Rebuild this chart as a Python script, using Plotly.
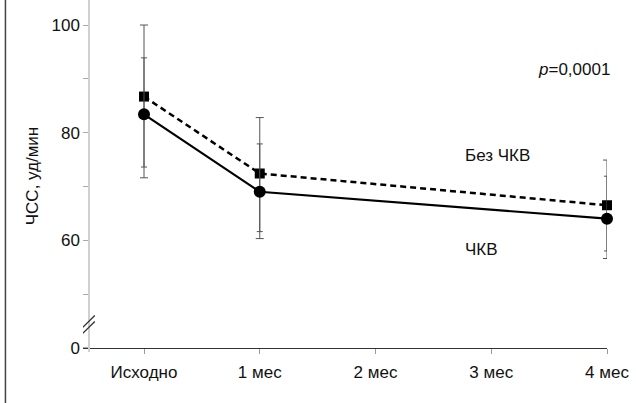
import plotly.graph_objects as go

# ---- data ----
x_labels = ["Исходно", "1 мес", "2 мес", "3 мес", "4 мес"]
x_pos = [0, 1, 2, 3, 4]
pts_x = [0, 1, 4]

no_pci = [86.7, 72.4, 66.5]          # Без ЧКВ (squares, dashed)
no_pci_plus = [13.3, 10.4, 8.4]
no_pci_minus = [15.1, 12.1, 9.9]

pci = [83.4, 69.0, 64.0]             # ЧКВ (circles, solid)
pci_plus = [10.5, 8.9, 7.9]
pci_minus = [9.8, 7.4, 6.0]

y_tickvals = [40, 50, 60, 70, 80, 90, 100]
y_ticktext = ["0", "", "60", "", "80", "", "100"]

FONT = "Liberation Sans, Arial, Helvetica, sans-serif"

fig = go.Figure()

fig.add_trace(go.Scatter(
    x=pts_x, y=no_pci, mode="lines+markers", name="Без ЧКВ",
    line=dict(color="black", width=2.5, dash="6px,4px"),
    marker=dict(symbol="square", size=10, color="black"),
    error_y=dict(type="data", symmetric=False, array=no_pci_plus,
                 arrayminus=no_pci_minus, color="#555", thickness=1, width=4),
    cliponaxis=False, showlegend=False,
))
fig.add_trace(go.Scatter(
    x=pts_x, y=pci, mode="lines+markers", name="ЧКВ",
    line=dict(color="black", width=2.2),
    marker=dict(symbol="circle", size=12, color="black"),
    error_y=dict(type="data", symmetric=False, array=pci_plus,
                 arrayminus=pci_minus, color="#555", thickness=1, width=3),
    cliponaxis=False, showlegend=False,
))

# axis break marks (decoration)
for dy in (0, 1.1):
    fig.add_shape(type="line", xref="x", yref="y",
                  x0=-0.538, y0=42.5 + dy, x1=-0.425, y1=44.9 + dy,
                  line=dict(color="#333", width=1.3))

# left frame line
fig.add_shape(type="line", xref="paper", yref="paper",
              x0=-0.148, x1=-0.148, y0=-0.2, y1=1.2,
              line=dict(color="#444", width=1.5))

fig.add_annotation(xref="paper", x=1.01, y=91.8, text="<i>p</i>=0,0001", showarrow=False,
                   xanchor="right", yanchor="middle",
                   font=dict(size=17, color="#111", family=FONT))
fig.add_annotation(x=3.05, y=75.8, text="Без ЧКВ", showarrow=False,
                   xanchor="center", yanchor="middle",
                   font=dict(size=17, color="#111", family=FONT))
fig.add_annotation(x=2.92, y=58.2, text="ЧКВ", showarrow=False,
                   xanchor="center", yanchor="middle",
                   font=dict(size=17, color="#111", family=FONT))

fig.update_layout(
    width=636, height=403,
    margin=dict(l=83, r=29, t=0, b=51),
    plot_bgcolor="white", paper_bgcolor="white",
    font=dict(family=FONT, size=17, color="#111"),
    xaxis=dict(
        range=[-0.527, 4.0], tickmode="array", tickvals=x_pos, ticktext=x_labels,
        showgrid=False, zeroline=False, showline=True, linecolor="#333", linewidth=1.2,
        ticks="outside", ticklen=5, tickcolor="#999", tickwidth=1,
        anchor="free", position=0.012, ticklabelstandoff=4,
        tickfont=dict(size=17, color="#111"),
    ),
    yaxis=dict(
        range=[39.22, 104.65], tickmode="array", tickvals=y_tickvals, ticktext=y_ticktext,
        showgrid=False, zeroline=False, showline=True, linecolor="#d0d0d0", linewidth=2,
        ticks="outside", ticklen=5, tickcolor="#aaa", tickwidth=1,
        anchor="free", position=0.012,
        tickfont=dict(size=17, color="#111"),
        title=dict(text="ЧСС, уд/мин", font=dict(size=17, color="#111"), standoff=8),
    ),
)

fig.write_html("out.html")
